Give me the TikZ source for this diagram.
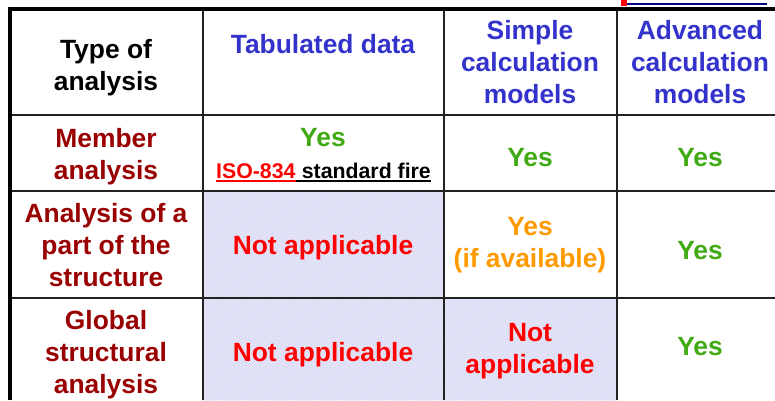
\documentclass[tikz,border=0pt]{standalone}
\usepackage{fontspec}
\setmainfont{Liberation Sans}
\usetikzlibrary{patterns}
\definecolor{hdblue}{RGB}{51,51,204}
\definecolor{rowred}{RGB}{153,0,0}
\definecolor{yesgreen}{RGB}{64,170,20}
\definecolor{maybeorange}{RGB}{255,153,0}
\definecolor{nored}{RGB}{255,0,0}
\definecolor{hatchbg}{RGB}{234,234,251}
\definecolor{hatchln}{RGB}{208,208,240}
\definecolor{gridln}{RGB}{34,34,34}
\definecolor{navyline}{RGB}{0,0,128}
\begin{document}
% multi-line cells are placed at the baseline of their last line
\begin{tikzpicture}[x=1pt,y=-1pt,
  txt/.style={font=\bfseries\fontsize{26.4}{32}\selectfont, align=center, anchor=base, inner sep=0pt},
  head/.style={txt, text=hdblue},
  rowhead/.style={txt, text=rowred},
  yes/.style={txt, text=yesgreen},
  maybe/.style={txt, text=maybeorange},
  notapp/.style={txt, text=nored},
  small/.style={font=\bfseries\fontsize{21.3}{25}\selectfont, anchor=base west, inner sep=0pt},
  hatched/.style={fill=hatchbg, postaction={pattern=north east lines, pattern color=hatchln}},
  inner/.style={draw=gridln, line width=2pt},
  outer/.style={draw=black, line width=4pt}
]
\useasboundingbox (0,0) rectangle (775,400);

% shaded cells
\path[hatched] (203,191) rectangle (444,400);
\path[hatched] (444,298) rectangle (617,400);

% grid
\foreach \yy in {115,191,298} \draw[inner] (10,\yy) -- (775,\yy);
\foreach \xx in {203,444,617} \draw[inner] (\xx,9) -- (\xx,400);
\draw[outer] (10,400) -- (10,9) -- (775,9);

% marks above the table
\draw[navyline, line width=2.5pt] (627,4) -- (767,4);
\fill[nored] (621,0) rectangle (627,6);

% header row
\node[txt] (typehd) at (106,90) {Type of\\analysis};
\node[head] (tabhd) at (323,53) {Tabulated data};
\node[head] (simphd) at (530,103) {Simple\\calculation\\models};
\node[head] (advhd) at (700,103) {Advanced\\calculation\\models};

% member analysis
\node[rowhead] (memb) at (106,179) {Member\\analysis};
\node[yes] (yes11) at (323,146) {Yes};
\node[small, text=nored] (iso) at (216,178) {ISO-834};
\node[small, text=black, anchor=base west] (stdfire) at ([xshift=5.9pt]iso.base east) {standard fire};
\draw[nored, line width=2pt] ([yshift=-3pt]iso.base west) -- ([yshift=-3pt]iso.base east);
\draw[black, line width=2pt] ([yshift=-3pt]iso.base east) -- ([yshift=-3pt]stdfire.base east);
\node[yes] (yes12) at (530,166) {Yes};
\node[yes] (yes13) at (700,166) {Yes};

% analysis of a part of the structure
\node[rowhead] (part) at (106,286) {Analysis of a\\part of the\\structure};
\node[notapp] (na21) at (323,254) {Not applicable};
\node[maybe] (yes22) at (530,267) {Yes\\(if available)};
\node[yes] (yes23) at (700,259) {Yes};

% global structural analysis
\node[rowhead] (glob) at (106,393) {Global\\structural\\analysis};
\node[notapp] (na31) at (323,361) {Not applicable};
\node[notapp] (na32) at (530,373) {Not\\applicable};
\node[yes] (yes33) at (700,355) {Yes};
\end{tikzpicture}
\end{document}
